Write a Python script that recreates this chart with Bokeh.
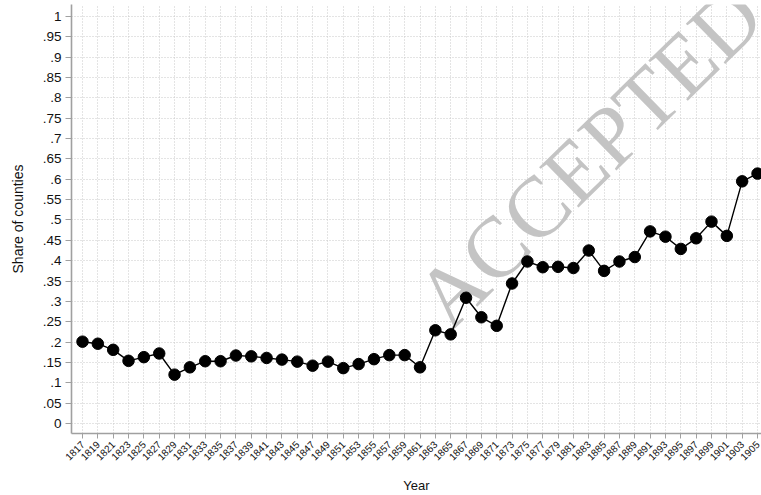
import math
from bokeh.plotting import figure
from bokeh.models import FixedTicker, ColumnDataSource, Range1d, Label
from bokeh.embed import file_html
from bokeh.resources import INLINE

years = list(range(1817, 1906, 2))
share = [0.201, 0.196, 0.181, 0.154, 0.163, 0.172, 0.120, 0.138, 0.153, 0.153,
         0.167, 0.165, 0.161, 0.157, 0.152, 0.142, 0.152, 0.136, 0.146, 0.158,
         0.168, 0.168, 0.138, 0.229, 0.219, 0.309, 0.261, 0.240, 0.344, 0.398,
         0.384, 0.385, 0.382, 0.425, 0.375, 0.398, 0.409, 0.472, 0.459, 0.429,
         0.455, 0.496, 0.461, 0.595, 0.614]
y_ticks = [round(i * 0.05, 2) for i in range(21)]
y_tick_labels = ["0", ".05", ".1", ".15", ".2", ".25", ".3", ".35", ".4", ".45", ".5",
                 ".55", ".6", ".65", ".7", ".75", ".8", ".85", ".9", ".95", "1"]
x_label = "Year"
y_label = "Share of counties"
watermark = "ACCEPTED"

src = ColumnDataSource(dict(year=years, share=share))

p = figure(width=761, height=495, output_backend="svg", toolbar_location=None,
           x_range=Range1d(1815.566, 1905.52), y_range=Range1d(-0.0246, 1.0295),
           min_border_left=71, min_border_right=0, min_border_top=4, min_border_bottom=62)
p.outline_line_color = None
p.background_fill_color = "white"
p.border_fill_color = "white"

# grid
for g in (p.xgrid, p.ygrid):
    g.grid_line_color = "#c8c8c8"
    g.grid_line_dash = "1 2"
    g.grid_line_width = 1

# axes
p.xaxis.ticker = FixedTicker(ticks=years)
p.xaxis.major_label_overrides = {y: str(y) for y in years}
p.xaxis.major_label_orientation = math.pi / 4
p.yaxis.ticker = FixedTicker(ticks=y_ticks)
p.yaxis.major_label_overrides = {t: l for t, l in zip(y_ticks, y_tick_labels)}
p.yaxis.major_label_orientation = "horizontal"
for ax in (p.xaxis, p.yaxis):
    ax.axis_line_color = "#a0a0a0"
    ax.axis_line_width = 1.6
    ax.major_tick_line_color = "#a0a0a0"
    ax.major_tick_line_width = 1
    ax.minor_tick_line_color = None
    ax.major_tick_in = 0
    ax.major_label_text_color = "#111111"
    ax.major_label_text_font = "Liberation Sans"
    ax.axis_label_text_font = "Liberation Sans"
    ax.axis_label_text_font_style = "normal"
    ax.axis_label_text_color = "#111111"
p.xaxis.major_tick_out = 5
p.yaxis.major_tick_out = 6
p.xaxis.major_label_text_font_size = "10px"
p.yaxis.major_label_text_font_size = "13.5px"
p.xaxis.major_label_standoff = 4
p.yaxis.major_label_standoff = 4
p.xaxis.axis_label = x_label
p.yaxis.axis_label = y_label
p.xaxis.axis_label_text_font_size = "13px"
p.yaxis.axis_label_text_font_size = "14px"
p.xaxis.axis_label_standoff = 11
p.yaxis.axis_label_standoff = 14

# watermark (drawn beneath the data)
wm = Label(x=1883.0, y=0.655, text=watermark, angle=0.775,
           text_font="Liberation Serif", text_font_size="86px",
           text_color="#c4c4c4", text_align="center", text_baseline="middle",
           level="underlay")
p.add_layout(wm)

p.line("year", "share", source=src, line_color="black", line_width=1.4)
p.scatter("year", "share", source=src, size=11.5, fill_color="black", line_color="black")

open("out.html", "w").write(file_html(p, INLINE))
